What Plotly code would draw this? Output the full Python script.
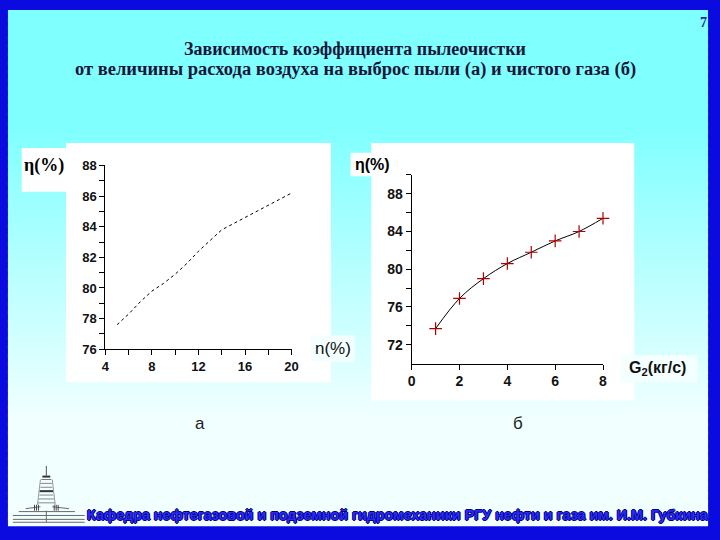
import numpy as np
import plotly.graph_objects as go

W, H = 720, 540

# ---- data ----
x_a = [5, 6, 7, 8, 9, 10, 11, 12, 13, 14, 15, 16, 17, 18, 19, 20]
eta_a = [77.6, 78.3, 79.1, 79.8, 80.3, 80.9, 81.6, 82.4, 83.1, 83.8, 84.2, 84.6, 85.0, 85.4, 85.8, 86.2]

x_b = [1, 2, 3, 4, 5, 6, 7, 8]
eta_b = [73.7, 76.9, 79.0, 80.6, 81.8, 83.0, 84.0, 85.4]

ticks_ax = [4, 8, 12, 16, 20]
minor_ax = [6, 10, 14, 18]
ticks_ay = [76, 78, 80, 82, 84, 86, 88]
minor_ay = [77, 79, 81, 83, 85, 87]
ticks_bx = [0, 2, 4, 6, 8]
ticks_by = [72, 76, 80, 84, 88]
minor_by = [74, 78, 82, 86, 90]

title_lines = ["Зависимость коэффициента пылеочистки",
               "от величины расхода воздуха на выброс пыли (а) и чистого газа (б)"]
footer = "Кафедра нефтегазовой и подземной гидромеханики РГУ нефти и газа им. И.М. Губкина"

SERIF = "Times New Roman, Liberation Serif, DejaVu Serif, serif"
SANS = "Arial, Liberation Sans, sans-serif"


def px(x):
    return x / W


def py(y):
    return 1 - y / H


fig = go.Figure()

fig.add_trace(go.Scatter(x=x_a, y=eta_a, mode="lines", xaxis="x", yaxis="y",
                         line=dict(color="black", width=1, dash="dot"),
                         showlegend=False, hoverinfo="skip"))
fig.add_trace(go.Scatter(x=x_b, y=eta_b, mode="lines+markers", xaxis="x2", yaxis="y2",
                         line=dict(color="black", width=1, shape="spline"),
                         marker=dict(symbol="cross-thin", size=9,
                                     line=dict(color="#b00000", width=1.2)),
                         showlegend=False, hoverinfo="skip", cliponaxis=False))

common = dict(showline=True, linecolor="black", linewidth=1, ticks="outside",
              ticklen=5, tickcolor="black", showgrid=False, zeroline=False,
              fixedrange=True)
tickfont_a = dict(family=SANS, size=13, color="#111111", weight="bold")
tickfont_b = dict(family=SANS, size=14, color="#111111", weight="bold")

shapes = []
# blue frame is the paper; inner gradient made of overlapping bands
top, bot = 3, 534
n = 60
c0 = np.array([0x80, 0xff, 0xff])
c1 = np.array([0xf2, 0xff, 0xff])
for i in range(n):
    y0 = top + (bot - top) * i / n
    y1 = top + (bot - top) * (i + 1) / n
    t = min(1.0, max(0.0, (y0 - 120) / 300))
    c = (c0 + (c1 - c0) * t).astype(int)
    shapes.append(dict(type="rect", xref="paper", yref="paper",
                       x0=px(4), x1=px(715), y0=py(min(bot, y1 + 3)), y1=py(y0),
                       fillcolor=f"rgb({c[0]},{c[1]},{c[2]})",
                       line=dict(width=0), layer="below"))


def white_box(x0, y0, x1, y1, color="white"):
    shapes.append(dict(type="rect", xref="paper", yref="paper",
                       x0=px(x0), x1=px(x1), y0=py(y1), y1=py(y0),
                       fillcolor=color, line=dict(width=0), layer="below"))


white_box(63, 140, 332, 386)
white_box(18, 145, 63, 190)
white_box(373, 140, 640, 405)
white_box(352, 150, 396, 174)
white_box(312, 338, 356, 365, "#f4ffff")
white_box(626, 358, 704, 386, "#f4ffff")


# simple logo (tower) bottom-left
def line(x0, y0, x1, y1, color="#6a6a6a", w=1):
    shapes.append(dict(type="line", xref="paper", yref="paper",
                       x0=px(x0), x1=px(x1), y0=py(y0), y1=py(y1),
                       line=dict(color=color, width=w)))


line(9, 523, 82, 523)
line(9, 527, 82, 527)
line(9, 530, 82, 530)
line(43, 518, 43, 530)
line(15, 519, 72, 519)
line(22, 516, 37, 514)
line(49, 514, 66, 516)
line(43, 472, 43, 482, "#555555")
line(39, 483, 47, 483, "#333333", 2)
line(38, 486, 48, 486, "#777777")
line(37, 490, 49, 490, "#888888")
line(37, 494, 49, 494, "#888888")
line(36, 498, 50, 498, "#333333", 2)
line(36, 502, 50, 502, "#888888")
line(35, 506, 51, 506, "#888888")
line(34, 510, 52, 510, "#888888")
line(37, 486, 34, 512, "#999999")
line(49, 486, 52, 512, "#999999")
for xx in (31, 33, 35, 51, 53, 55):
    line(xx, 512, xx, 518, "#444444")

annotations = []


def ann(text, x, y, size, family=SANS, color="black", weight="normal", **kw):
    extra = kw.pop("font_extra", {})
    annotations.append(dict(text=text, x=px(x), y=py(y), xref="paper", yref="paper",
                            showarrow=False, xanchor=kw.pop("xanchor", "center"),
                            yanchor="middle",
                            font=dict(family=family, size=size, color=color,
                                      weight=weight, **extra),
                            **kw))


ann(title_lines[0], 356, 43, 18, family=SERIF, color="#15153a", weight="bold")
ann(title_lines[1], 357, 64, 18.5, family=SERIF, color="#15153a", weight="bold")
ann("7", 710, 16, 14, family=SERIF, color="#1a2aa0", weight="bold")
ann("η(%)", 41, 163, 18, family=SERIF, weight="bold")
ann("η(%)", 374, 162, 16, family=SANS, weight="bold")
ann("n(%)", 334, 351, 17, family=SANS, color="#111111")
ann("G<sub>2</sub>(кг/с)", 664, 372, 16, family=SANS, weight="bold", color="#111111")
ann("а", 199, 428, 17, family=SANS, color="#222222")
ann("б", 522, 428, 17, family=SANS, color="#222222")
ann(footer, 400, 522, 14.3, family=SANS, color="#2a2aff", weight="bold",
    font_extra=dict(shadow="-1px 0 #000070, 1px 0 #000070, 0 1px #000070, 0 -1px #000070"))

fig.update_layout(
    width=W, height=H, margin=dict(l=0, r=0, t=0, b=0),
    paper_bgcolor="#0b0be0", plot_bgcolor="rgba(0,0,0,0)",
    showlegend=False,
    xaxis=dict(domain=[px(103), px(292)], range=[4, 20], anchor="y",
               tickvals=ticks_ax, tickfont=tickfont_a,
               minor=dict(tickvals=minor_ax, ticks="outside", ticklen=5, tickcolor="black"),
               **common),
    yaxis=dict(domain=[py(352), py(163)], range=[76, 88], anchor="x",
               tickvals=ticks_ay, tickfont=tickfont_a,
               minor=dict(tickvals=minor_ay, ticks="outside", ticklen=5, tickcolor="black"),
               **common),
    xaxis2=dict(domain=[px(414), px(608.3)], range=[0, 8], anchor="y2",
                tickvals=ticks_bx, tickfont=tickfont_b, **common),
    yaxis2=dict(domain=[py(366.7), py(172.7)], range=[70, 90], anchor="x2",
                tickvals=ticks_by, tickfont=tickfont_b,
                minor=dict(tickvals=minor_by, ticks="outside", ticklen=5, tickcolor="black"),
                **common),
    shapes=shapes, annotations=annotations,
)

fig.write_html("out.html", config={"displayModeBar": False},
               post_script="document.body.style.margin='0';document.body.style.overflow='hidden';")
